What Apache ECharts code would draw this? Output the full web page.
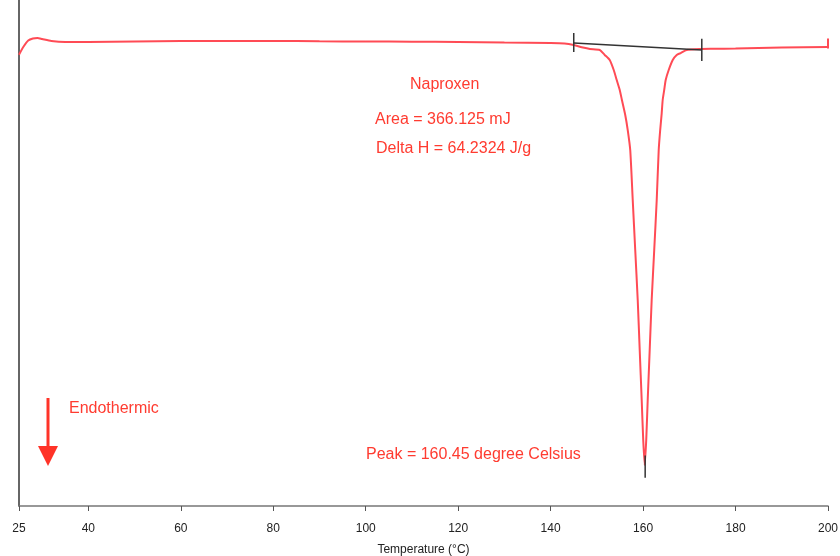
<!DOCTYPE html>
<html><head><meta charset="utf-8">
<script src="https://cdn.jsdelivr.net/npm/echarts@6/dist/echarts.min.js"></script>
<style>html,body{margin:0;padding:0;background:#fff}#c{width:840px;height:556px}</style>
</head><body><div id="c"></div>
<script>
// DSC curve: temperature (°C) vs heat flow (arbitrary units, endotherm down)
const temperature = [25,26,27,28,29,30,32,35,40,50,60,70,80,90,100,110,120,130,140,143,145,147,148.5,
  150.62,151.70,152.78,153.65,154.30,154.95,155.42,156.14,156.68,157.22,157.76,158.30,158.84,159.27,159.70,160.03,160.35,
  160.68,161.00,161.43,161.86,162.41,162.95,163.38,163.70,164.03,164.24,164.57,164.89,165.54,166.41,167.27,168.14,169.41,172.22,
  175,180,190,200];
const heatFlow = [44.6,45.4,46.0,46.2,46.25,46.15,45.95,45.85,45.85,45.9,45.95,45.95,45.95,45.92,45.9,45.88,45.85,45.8,45.75,45.7,45.55,45.3,45.16,
  45.06,44.57,44.07,43.08,42.09,41.11,40.12,38.64,37.15,35.18,30.24,25.30,20.36,15.42,10.47,6.52,4.05,
  6.52,10.47,15.42,20.36,25.30,30.24,35.18,37.15,38.83,40.12,41.11,42.09,43.08,44.07,44.57,44.76,45.06,45.16,
  45.18,45.2,45.3,45.36];
const baselineT = [145, 172.7];
const baselineV = [45.75, 45.06];
const peakT = 160.45;
const xTicks = [25,40,60,80,100,120,140,160,180,200];
const titleText = 'Naproxen';
const areaText = 'Area = 366.125 mJ';
const deltaHText = 'Delta H = 64.2324 J/g';
const peakText = 'Peak = 160.45 degree Celsius';
const endoText = 'Endothermic';

const red = '#ff4b55';
const txtRed = '#ff3b30';
const chart = echarts.init(document.getElementById('c'));
const curve = temperature.map((t,i)=>[t,heatFlow[i]]);
const F = '16px "Liberation Sans"';
chart.setOption({
  animation:false,
  grid:{left:19,right:12,top:0,bottom:50,containLabel:false,outerBoundsMode:'none'},
  xAxis:{type:'value',min:25,max:200,
    name:'Temperature (°C)',nameLocation:'middle',nameGap:38,
    nameTextStyle:{fontFamily:'Liberation Sans',fontSize:12,color:'#222'},
    axisLine:{lineStyle:{color:'#777',width:1.5}},
    axisTick:{customValues:xTicks,length:5,lineStyle:{color:'#555'}},
    axisLabel:{customValues:xTicks,fontFamily:'Liberation Sans',fontSize:12,color:'#222',margin:17},
    splitLine:{show:false}},
  yAxis:{type:'value',min:0,max:50,
    axisLine:{show:true,lineStyle:{color:'#333',width:1.5}},
    axisTick:{show:false},axisLabel:{show:false},splitLine:{show:false}},
  series:[
    {type:'line',data:curve,smooth:0.2,showSymbol:false,
     lineStyle:{color:red,width:2},z:3},
    {type:'line',data:[[baselineT[0],baselineV[0]],[baselineT[1],baselineV[1]]],showSymbol:false,
     lineStyle:{color:'#333',width:1.5},z:4},
    {type:'line',data:[[baselineT[0],baselineV[0]+1],[baselineT[0],baselineV[0]-0.9]],showSymbol:false,
     lineStyle:{color:'#333',width:1.5},z:4},
    {type:'line',data:[[baselineT[1],baselineV[1]+1.1],[baselineT[1],baselineV[1]-1.1]],showSymbol:false,
     lineStyle:{color:'#333',width:1.5},z:4},
    {type:'line',data:[[peakT,5.0],[peakT,2.8]],showSymbol:false,
     lineStyle:{color:'#333',width:1.5},z:5},
    {type:'line',data:[[200,46.2],[200,45.2]],showSymbol:false,
     lineStyle:{color:red,width:2},z:5}
  ],
  graphic:[
    {type:'text',left:410,top:77,style:{text:titleText,fill:txtRed,font:F}},
    {type:'text',left:375,top:112,style:{text:areaText,fill:txtRed,font:F}},
    {type:'text',left:376,top:141,style:{text:deltaHText,fill:txtRed,font:F}},
    {type:'text',left:69,top:401,style:{text:endoText,fill:txtRed,font:F}},
    {type:'text',left:366,top:447,style:{text:peakText,fill:txtRed,font:F}},
    {type:'line',shape:{x1:48,y1:398,x2:48,y2:448},style:{stroke:'#ff3328',lineWidth:3}},
    {type:'polygon',shape:{points:[[38,446],[58,446],[48,466]]},style:{fill:'#ff3328'}}
  ]
});
</script></body></html>
